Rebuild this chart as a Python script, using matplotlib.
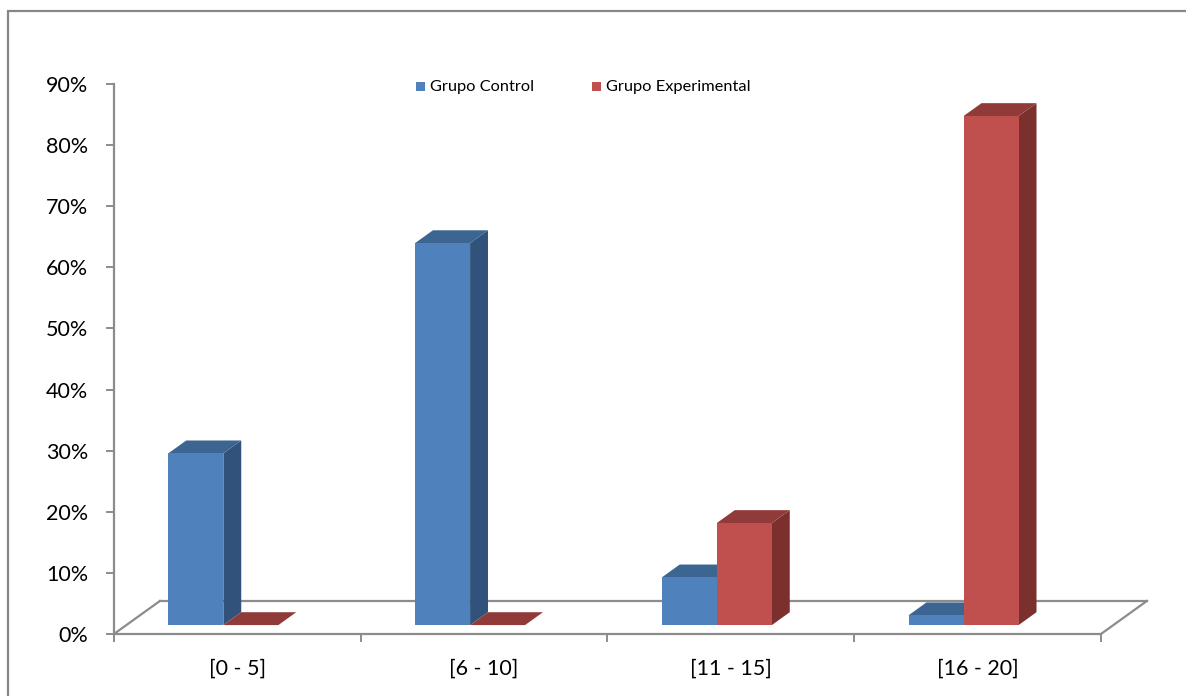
import matplotlib.pyplot as plt
from matplotlib.patches import Polygon, Rectangle

categorias = ['[0 - 5]', '[6 - 10]', '[11 - 15]', '[16 - 20]']
grupo_control = [28.1, 62.5, 7.8, 1.6]
grupo_experimental = [0.0, 0.0, 16.7, 83.3]
series = ['Grupo Control', 'Grupo Experimental']
ticks_y = list(range(0, 91, 10))

# frente, techo, lado de cada serie
colores = {
    'Grupo Control': ('#4F81BD', '#3C6591', '#31527B'),
    'Grupo Experimental': ('#C0504D', '#903B39', '#7B302E'),
}

# geometria del efecto 3D (oblicuo)
prof_x = 0.186   # profundidad del piso en unidades de categoria
prof_y = 5.4     # profundidad del piso en puntos porcentuales
ancho = 0.223
inicio = 0.17
f_frente = 0.27
f_fondo = 0.39
gris = '#8C8C8C'

plt.rcParams['font.family'] = ['Lato', 'DejaVu Sans']

fig = plt.figure(figsize=(11.86, 6.96), dpi=100)
ax = fig.add_axes([0.0961, 0.0891, 0.8322, 0.7902])
ax.set_xlim(0, 4)
ax.set_ylim(0, 90)


def caja(x0, v, col):
    frente, techo, lado = col
    bx = x0 + f_frente * prof_x
    by = f_frente * prof_y
    dx = f_fondo * prof_x
    dy = f_fondo * prof_y
    cara_techo = [(bx, by + v), (bx + ancho, by + v),
                  (bx + ancho + dx, by + v + dy), (bx + dx, by + v + dy)]
    if v > 0:
        cara_lado = [(bx + ancho, by), (bx + ancho + dx, by + dy),
                     (bx + ancho + dx, by + v + dy), (bx + ancho, by + v)]
        ax.add_patch(Polygon(cara_lado, closed=True, fc=lado, ec='none',
                             zorder=3, clip_on=False))
    ax.add_patch(Polygon(cara_techo, closed=True, fc=techo, ec='none',
                         zorder=3, clip_on=False))
    if v > 0:
        ax.add_patch(Rectangle((bx, by), ancho, v, fc=frente, ec='none',
                               zorder=3, clip_on=False))


# piso
ax.plot([prof_x, 4 + prof_x], [prof_y, prof_y], color=gris, lw=1.6,
        clip_on=False, zorder=1)
ax.plot([0, prof_x], [0, prof_y], color=gris, lw=1.6, clip_on=False, zorder=1)
ax.plot([4, 4 + prof_x], [0, prof_y], color=gris, lw=1.6, clip_on=False, zorder=1)

for i in range(len(categorias)):
    caja(i + inicio, grupo_control[i], colores['Grupo Control'])
    caja(i + inicio + ancho, grupo_experimental[i], colores['Grupo Experimental'])

for s in ['top', 'right']:
    ax.spines[s].set_visible(False)
for s in ['left', 'bottom']:
    ax.spines[s].set_color(gris)
    ax.spines[s].set_linewidth(1.6)

ax.set_yticks(ticks_y)
ax.set_yticklabels([f'{t}%' for t in ticks_y])
ax.tick_params(axis='y', direction='out', length=5.5, width=1.4, color=gris,
               labelsize=15.5, pad=13)
ax.set_xticks(range(len(categorias) + 1))
ax.set_xticklabels([])
ax.set_xticks([i + 0.5 for i in range(len(categorias))], minor=True)
ax.set_xticklabels(categorias, minor=True)
ax.tick_params(axis='x', which='major', direction='out', length=5.5,
               width=1.4, color=gris)
ax.tick_params(axis='x', which='minor', length=0, labelsize=15.5, pad=18)

# leyenda
leyenda_x = [416, 592]
for nombre, x in zip(series, leyenda_x):
    fig.patches.append(Rectangle((x / 1186, 1 - 91 / 696), 9 / 1186, 9 / 696,
                                 fc=colores[nombre][0], ec='none',
                                 transform=fig.transFigure))
    fig.text((x + 14) / 1186, 1 - 87 / 696, nombre, fontsize=11.8,
             va='center', ha='left')

# marco exterior
fig.patches.append(Rectangle((8 / 1186, -0.1), 1.2, 1.1 - 11 / 696,
                             fc='none', ec='#878787', lw=1.6,
                             transform=fig.transFigure))

fig.savefig('out.png', dpi=100)
